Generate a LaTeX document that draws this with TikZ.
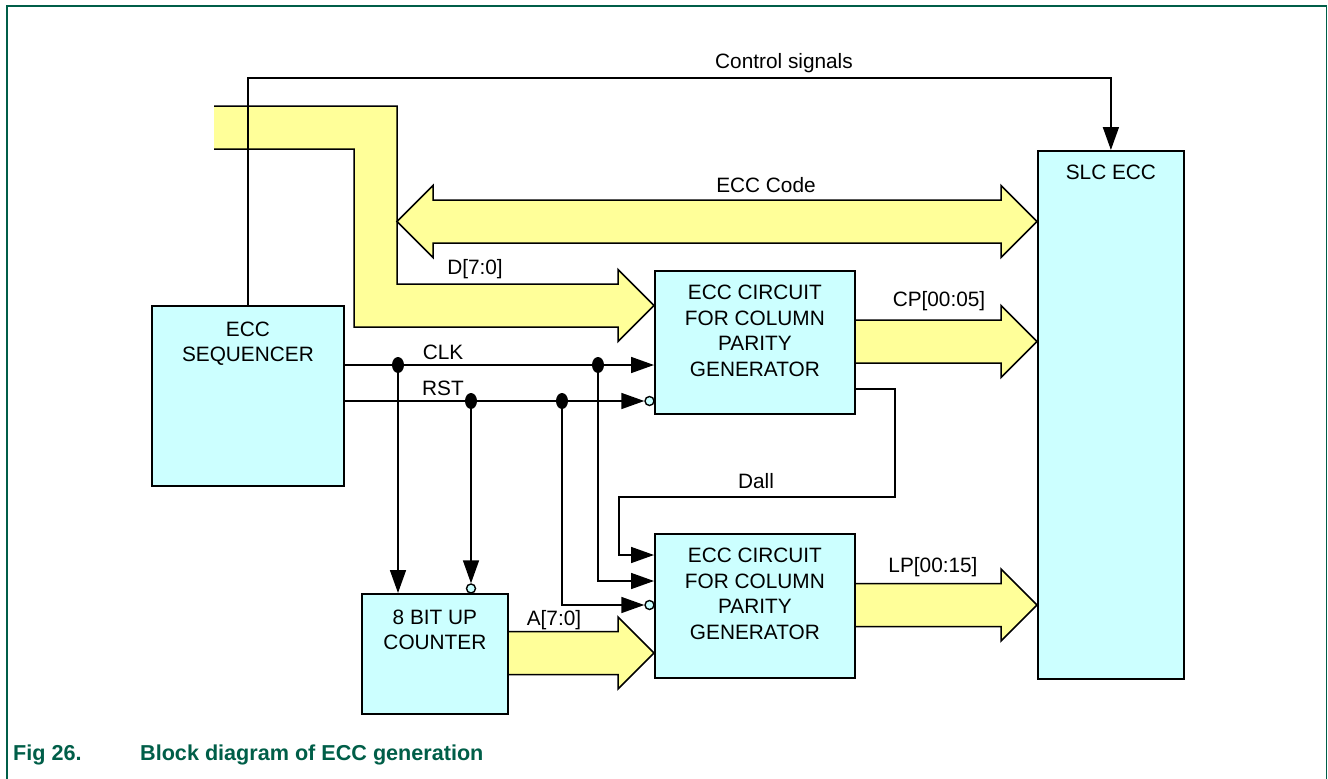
\documentclass[tikz,border=0pt]{standalone}
\usepackage{fontspec}
\setmainfont{Liberation Sans}
\usetikzlibrary{arrows.meta,positioning,calc,shapes.geometric}

\definecolor{boxcyan}{HTML}{CCFFFF}
\definecolor{busyellow}{HTML}{FFFF99}
\definecolor{figgreen}{RGB}{0,94,72}

\pgfdeclarelayer{back}
\pgfsetlayers{back,main}

\tikzset{
  block/.style={draw, fill=boxcyan, line width=1.8pt, inner sep=0pt, anchor=north west},
  blocktext/.style={align=center, inner sep=0pt},
  sig/.style={line width=1.6pt, -{Triangle[length=23pt,width=16pt]}},
  bus/.style={fill=busyellow, draw, line width=1.5pt},
  dot/.style={ellipse, fill, inner sep=0pt, minimum width=12pt, minimum height=16pt},
  bubble/.style={circle, draw, fill=boxcyan, line width=1.4pt, inner sep=0pt, minimum size=9pt},
  lbl/.style={inner sep=0pt, anchor=base},
}

% fat bus arrow from #1 to its tip #2, both on one line
\newcommand{\busarrow}[2]{%
  \filldraw[bus] ($(#1)+(0,-21.5)$) -- ($(#2)+(-36,-21.5)$) -- ($(#2)+(-36,-36)$)
    -- (#2) -- ($(#2)+(-36,36)$) -- ($(#2)+(-36,21.5)$) -- ($(#1)+(0,21.5)$);}
% fat bus arrow with a head at both ends
\newcommand{\dblbus}[2]{%
  \filldraw[bus] (#1) -- ($(#1)+(36,-36)$) -- ($(#1)+(36,-21.5)$) -- ($(#2)+(-36,-21.5)$)
    -- ($(#2)+(-36,-36)$) -- (#2) -- ($(#2)+(-36,36)$) -- ($(#2)+(-36,21.5)$)
    -- ($(#1)+(36,21.5)$) -- ($(#1)+(36,36)$) -- cycle;}

\begin{document}
\begin{tikzpicture}[x=1pt, y=-1pt, font=\fontsize{20.8}{25.5}\selectfont]
	\useasboundingbox (0,0) rectangle (1328,779);
	\draw[figgreen, line width=1.5pt] (7,779) -- (7,6) -- (1326.5,6) -- (1326.5,779);

	% blocks
	\node[block, minimum width=192pt, minimum height=180pt] (seq) at (151,305) {};
	\node[block, minimum width=200pt, minimum height=143pt] (ccp) at (654,270) {};
	\node[block, minimum width=200pt, minimum height=144pt] (clp) at (654,533) {};
	\node[block, minimum width=146pt, minimum height=120pt] (cnt) at (361,593) {};
	\node[block, minimum width=146pt, minimum height=528pt] (slc) at (1037,150) {};

	\node[blocktext, below=16.5pt of seq.north] (seqtxt) {ECC\\SEQUENCER};
	\node[blocktext, below=15pt of ccp.north] (ccptxt) {ECC CIRCUIT\\FOR COLUMN\\PARITY\\GENERATOR};
	\node[blocktext, below=15pt of clp.north] (clptxt) {ECC CIRCUIT\\FOR COLUMN\\PARITY\\GENERATOR};
	\node[blocktext, below=16.5pt of cnt.north] (cnttxt) {8 BIT UP\\COUNTER};
	\node[blocktext, below=15pt of slc.north] (slctxt) {SLC ECC};

	% buses
	\coordinate (dy) at (0,305.5);
	\coordinate (eccy) at (0,221.5);
	\coordinate (cpy) at (0,341.5);
	\coordinate (lpy) at (0,605);
	\coordinate (ay) at (0,653);
	\coordinate (busedge) at (397,221.5);
	\begin{pgfonlayer}{back}
		\filldraw[bus] (214,106) -- (397,106) -- (397,284) -- ($(ccp.west |- dy)+(-36,-21.5)$)
			-- ($(ccp.west |- dy)+(-36,-36)$) -- (ccp.west |- dy) -- ($(ccp.west |- dy)+(-36,36)$)
			-- ($(ccp.west |- dy)+(-36,21.5)$) -- (354,327) -- (354,149) -- (214,149);
		\dblbus{busedge}{slc.west |- eccy}
		\busarrow{ccp.east |- cpy}{slc.west |- cpy}
		\busarrow{clp.east |- lpy}{slc.west |- lpy}
		\busarrow{cnt.east |- ay}{clp.west |- ay}
	\end{pgfonlayer}

	% control signals
	\coordinate (ctl) at (slc.north |- 0,78);
	\draw[sig] (seq.north) |- (ctl) -- (slc.north);

	% clock and reset
	\node[dot] (jc1) at (398,365) {};
	\node[dot] (jc2) at (598,365) {};
	\node[dot] (jr1) at (471,401) {};
	\node[dot] (jr2) at (562,401) {};
	\node[bubble] (rb1) at (649.5,401) {};
	\node[bubble] (rb2) at (471,588.5) {};
	\node[bubble] (rb3) at (649.5,605) {};

	\draw[sig] (seq.east |- jc1) -- (ccp.west |- jc1);
	\draw[sig] (seq.east |- jr1) -- (rb1);
	\draw[sig] (jc1) -- (jc1 |- cnt.north);
	\draw[sig] (jr1) -- (rb2);
	\draw[sig] (jc2) |- (clp.west |- 0,581);
	\draw[sig] (jr2) |- (rb3);
	\draw[sig] (ccp.east |- 0,389) -| (895,497) -| (619,555) -- (clp.west |- 0,555);

	% labels
	\node[lbl] (ctltxt) at (784,68) {Control signals};
	\node[lbl] (ecclbl) at (766,192.5) {ECC Code};
	\node[lbl] (dlbl) at (475,274.5) {D[7:0]};
	\node[lbl] (cplbl) at (939,306.5) {CP[00:05]};
	\node[lbl] (clklbl) at (443,359.5) {CLK};
	\node[lbl] (rstlbl) at (443,395.5) {RST};
	\node[lbl] (dall) at (756,488.5) {Dall};
	\node[lbl] (lplbl) at (933,572.5) {LP[00:15]};
	\node[lbl] (albl) at (554,625.5) {A[7:0]};

	\node[anchor=base west, inner sep=0pt, text=figgreen, font=\bfseries\fontsize{21.6}{26}\selectfont] (fignum) at (13,760) {Fig 26.};
	\node[anchor=base west, inner sep=0pt, text=figgreen, font=\bfseries\fontsize{21.6}{26}\selectfont] (figcap) at (140,760) {Block diagram of ECC generation};
\end{tikzpicture}
\end{document}
